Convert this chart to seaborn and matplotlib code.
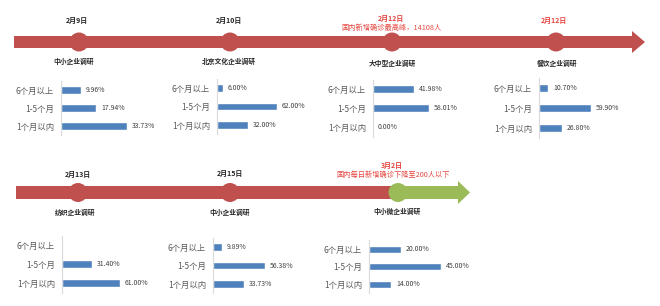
import matplotlib
matplotlib.use("Agg")
import matplotlib.pyplot as plt
import seaborn as sns
import pandas as pd
from matplotlib.patches import Rectangle, Polygon, Circle

sns.set_style("white")
plt.rcParams['font.family'] = ['Noto Sans CJK SC', 'DejaVu Sans']

# ---------------- data ----------------
categories = ["6个月以上", "1-5个月", "1个月以内"]

survey_titles = ["中小企业调研", "北京文化企业调研", "大中型企业调研", "餐饮企业调研",
                 "纺织企业调研", "中小企业调研", "中小微企业调研"]
survey_dates = ["2月9日", "2月10日", "2月12日", "2月12日", "2月13日", "2月15日", "3月2日"]

vals_sme_0209 = [9.96, 17.94, 33.73]
vals_beijing_culture = [6.00, 62.00, 32.00]
vals_large_medium = [41.98, 58.01, 0.00]
vals_catering = [10.70, 59.90, 26.80]
vals_textile = [None, 31.40, 61.00]
vals_sme_0215 = [9.89, 56.38, 33.73]
vals_micro = [20.00, 45.00, 14.00]

note_peak = "国内新增确诊最高峰，14108人"
note_drop = "国内每日新增确诊下降至200人以下"

all_vals = [vals_sme_0209, vals_beijing_culture, vals_large_medium, vals_catering,
            vals_textile, vals_sme_0215, vals_micro]

# ---------------- layout (pixels) ----------------
W, H = 660, 306
RED = "#BF504D"
GREEN = "#9BBB59"
BLUE = "#4F81BD"
NOTE_RED = "#E5463F"

fig = plt.figure(figsize=(W / 100, H / 100), dpi=100)
bg = fig.add_axes([0, 0, 1, 1])
bg.set_xlim(0, W)
bg.set_ylim(H, 0)
bg.axis("off")

# top timeline
bg.add_patch(Rectangle((14, 36), 633 - 14, 12, color=RED, lw=0))
bg.add_patch(Polygon([(632, 31), (645, 42), (632, 53)], color=RED, lw=0))
for cx in [79, 230, 392, 556]:
    bg.add_patch(Circle((cx, 42), 9.5, color=RED, lw=0))

# bottom timeline
bg.add_patch(Rectangle((16, 186), 398 - 16, 13, color=RED, lw=0))
bg.add_patch(Rectangle((398, 186), 459 - 398, 13, color=GREEN, lw=0))
bg.add_patch(Polygon([(458, 181), (470, 192.5), (458, 204)], color=GREEN, lw=0))
for cx in [78, 230]:
    bg.add_patch(Circle((cx, 192.5), 9.5, color=RED, lw=0))
bg.add_patch(Circle((398, 192.5), 9.5, color=GREEN, lw=0))

# dates
date_pos = [(77, 20), (229, 20), (391, 18), (554, 20), (78, 174), (230, 173), (392, 165)]
date_col = ["#262626", "#262626", NOTE_RED, NOTE_RED, "#262626", "#262626", NOTE_RED]
for d, (x, y), c in zip(survey_dates, date_pos, date_col):
    bg.text(x, y, d, ha="center", va="center", fontsize=5, fontweight="bold", color=c)
bg.text(392, 28, note_peak, ha="center", va="center", fontsize=5.2, color=NOTE_RED)
bg.text(393, 175, note_drop, ha="center", va="center", fontsize=5.2, color=NOTE_RED)

# titles
title_pos = [(74, 61), (229, 61), (392, 63), (557, 63), (75, 212), (230, 212), (397, 211)]
for t, (x, y) in zip(survey_titles, title_pos):
    bg.text(x, y, t, ha="center", va="center", fontsize=4.9, fontweight="bold", color="#262626")

# bar charts: (axis x px, first row y px, row spacing px, px per %)
chart_geo = [
    (61, 90, 18, 1.97),
    (217, 88, 18.5, 0.97),
    (373, 89, 19, 0.97),
    (539, 88, 20, 0.87),
    (62, 245, 19, 0.95),
    (213, 247, 18.5, 0.93),
    (369, 249, 17.5, 1.6),
]

for vals, (x0, y0, sp, scale) in zip(all_vals, chart_geo):
    wpx = 110
    top = y0 - sp / 2
    hpx = sp * 3
    ax = fig.add_axes([x0 / W, 1 - (top + hpx) / H, wpx / W, hpx / H])
    df = pd.DataFrame({"cat": categories, "val": vals}).dropna()
    sns.barplot(data=df, x="val", y="cat", order=categories, orient="h",
                color=BLUE, width=0.4, saturation=1, ax=ax)
    ax.set_xlim(0, wpx / scale)
    ax.set_ylim(2.5, -0.5)
    ax.set_xlabel("")
    ax.set_ylabel("")
    ax.set_xticks([])
    ax.patch.set_alpha(0)
    for s in ["top", "right", "bottom"]:
        ax.spines[s].set_visible(False)
    ax.spines["left"].set_color("#D9D9D9")
    ax.spines["left"].set_linewidth(0.8)
    ax.tick_params(axis="y", length=0, pad=5, labelsize=6, labelcolor="#595959")
    for i, v in enumerate(vals):
        if v is None:
            continue
        ax.annotate(f"{v:.2f}%", xy=(v, i), xytext=(3.5, 0), textcoords="offset points",
                    ha="left", va="center", fontsize=5, color="#404040")

fig.savefig("out.png", dpi=100)
